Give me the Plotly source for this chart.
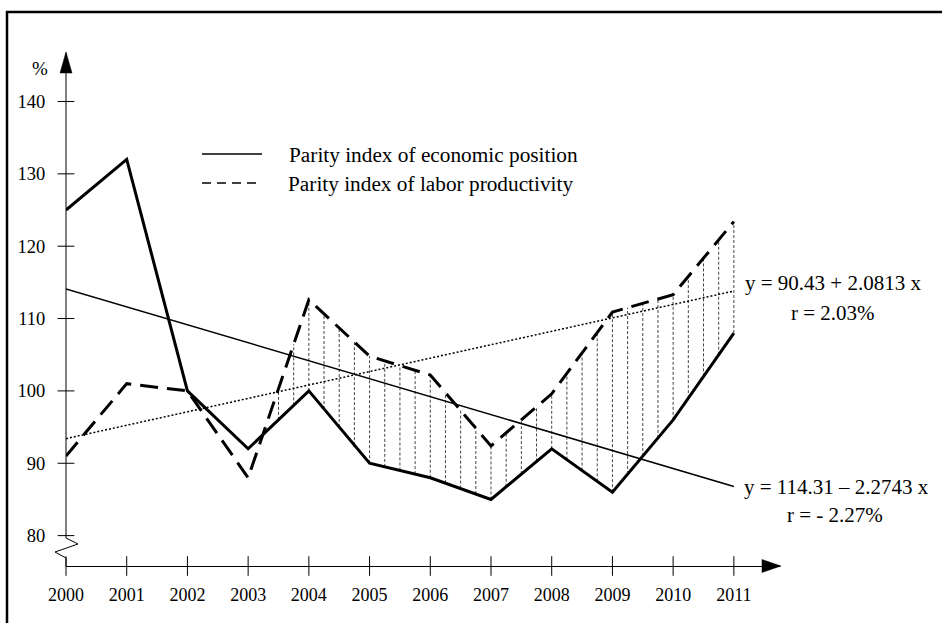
import numpy as np
import plotly.graph_objects as go

# ---------------- data ----------------
years = list(range(2000, 2012))
economic_position = [125, 132, 100, 92, 100, 90, 88, 85, 92, 86, 96, 108]
labor_productivity = [91, 101, 100, 88, 112.6, 104.8, 102.2, 92.4, 99.6, 110.9, 113.3, 123.4]

trend_years = [2000, 2011]
trend_economic = [114.1, 86.8]       # y = 114.31 - 2.2743 x
trend_labor = [93.4, 113.8]          # y = 90.43 + 2.0813 x

y_tick_vals = [80, 90, 100, 110, 120, 130, 140]
x_tick_vals = years
x_tick_text = [str(y) for y in years]

hatch_years = list(np.arange(2003.5, 2011.001, 0.25))

legend_labels = ["Parity index of economic position", "Parity index of labor productivity"]
eq_labor = ["y = 90.43 + 2.0813 x", "r = 2.03%"]
eq_econ = ["y = 114.31 – 2.2743 x", "r = - 2.27%"]

# ---------------- geometry ----------------
W, H = 942, 623
ML, MR, MT, MB = 66, 162, 53, 57
X0, X1 = 2000, 2011.76
Y0, Y1 = 75.8, 146.7
PW, PH = W - ML - MR, H - MT - MB


def P(px, py):
    return (px - ML) / PW, (H - MB - py) / PH


def path(points, close=False):
    s = ""
    for i, (px, py) in enumerate(points):
        x, y = P(px, py)
        s += ("M" if i == 0 else "L") + f"{x:.5f},{y:.5f} "
    if close:
        s += "Z"
    return s


FONT = "Liberation Serif, Times New Roman, serif"

fig = go.Figure()

# hatching between the two series
hx, hy = [], []
for yr in hatch_years:
    a = float(np.interp(yr, years, economic_position))
    b = float(np.interp(yr, years, labor_productivity))
    hx += [yr, yr, None]
    hy += [a, b, None]
fig.add_trace(go.Scatter(x=hx, y=hy, mode="lines",
                         line=dict(color="#444", width=1, dash="3px,2px"),
                         hoverinfo="skip"))

# trend lines
fig.add_trace(go.Scatter(x=trend_years, y=trend_economic, mode="lines",
                         line=dict(color="black", width=1.5), hoverinfo="skip"))
fig.add_trace(go.Scatter(x=trend_years, y=trend_labor, mode="lines",
                         line=dict(color="black", width=1.5, dash="2px,2px"), hoverinfo="skip"))

# series
fig.add_trace(go.Scatter(x=years, y=labor_productivity, mode="lines",
                         line=dict(color="black", width=3, dash="18px,9px"),
                         name=legend_labels[1]))
fig.add_trace(go.Scatter(x=years, y=economic_position, mode="lines",
                         line=dict(color="black", width=3),
                         name=legend_labels[0]))

# tick marks crossing the axes
fig.add_trace(go.Scatter(x=[X0] * len(y_tick_vals), y=y_tick_vals, mode="markers",
                         marker=dict(symbol="line-ew", size=12, line=dict(width=1, color="black")),
                         cliponaxis=False, hoverinfo="skip"))
fig.add_trace(go.Scatter(x=x_tick_vals, y=[Y0] * len(x_tick_vals), mode="markers",
                         marker=dict(symbol="line-ns", size=14, line=dict(width=1, color="black")),
                         cliponaxis=False, hoverinfo="skip"))

shapes = []
# y axis with break
shapes.append(dict(type="path", xref="paper", yref="paper",
                   path=path([(66, 53), (66, 538), (78, 544), (55, 552), (66, 558), (66, 566)]),
                   line=dict(color="black", width=1)))
# arrows
shapes.append(dict(type="path", xref="paper", yref="paper",
                   path=path([(66, 52), (60, 73), (72, 73)], close=True),
                   fillcolor="black", line=dict(color="black", width=0.5)))
shapes.append(dict(type="path", xref="paper", yref="paper",
                   path=path([(781, 566), (762, 559.5), (762, 572.5)], close=True),
                   fillcolor="black", line=dict(color="black", width=0.5)))
# frame (top and left edges)
shapes.append(dict(type="path", xref="paper", yref="paper",
                   path=path([(7, 630), (7, 12), (950, 12)]),
                   line=dict(color="black", width=2.5)))
# legend samples
x0, y0 = P(202, 154)
x1, _ = P(262, 154)
shapes.append(dict(type="line", xref="paper", yref="paper", x0=x0, x1=x1, y0=y0, y1=y0,
                   line=dict(color="black", width=1.5)))
x0, y0 = P(202, 183)
shapes.append(dict(type="line", xref="paper", yref="paper", x0=x0, x1=x1, y0=y0, y1=y0,
                   line=dict(color="black", width=1.5, dash="9px,6px")))

annotations = []


def txt(text, px, py, size, anchor="center"):
    x, y = P(px, py)
    annotations.append(dict(text=text, x=x, y=y, xref="paper", yref="paper",
                            xanchor=anchor, yanchor="middle", showarrow=False,
                            font=dict(family=FONT, size=size, color="black")))


txt("%", 40, 68, 19)
txt(legend_labels[0], 287, 155, 21.3, "left")
txt(legend_labels[1], 286, 184, 21.3, "left")
txt(eq_labor[0], 833, 283, 21)
txt(eq_labor[1], 833, 313, 21)
txt(eq_econ[0], 836, 487, 21)
txt(eq_econ[1], 835, 515, 21)

fig.update_layout(
    width=W, height=H, autosize=False,
    margin=dict(l=ML, r=MR, t=MT, b=MB, pad=0),
    paper_bgcolor="white", plot_bgcolor="white",
    showlegend=False,
    shapes=shapes, annotations=annotations,
    font=dict(family=FONT, color="black", size=18),
    xaxis=dict(range=[X0, X1], showgrid=False, zeroline=False,
               showline=True, linecolor="black", linewidth=1,
               tickvals=x_tick_vals, ticktext=x_tick_text,
               ticks="outside", ticklen=12, tickcolor="rgba(0,0,0,0)",
               tickfont=dict(family=FONT, size=18)),
    yaxis=dict(range=[Y0, Y1], showgrid=False, zeroline=False, showline=False,
               tickvals=y_tick_vals, ticks="outside", ticklen=16,
               tickcolor="rgba(0,0,0,0)",
               tickfont=dict(family=FONT, size=18.5)),
)

fig.write_html("out.html", config={"displayModeBar": False},
               post_script="document.body.style.margin='0';document.body.style.overflow='hidden';")
